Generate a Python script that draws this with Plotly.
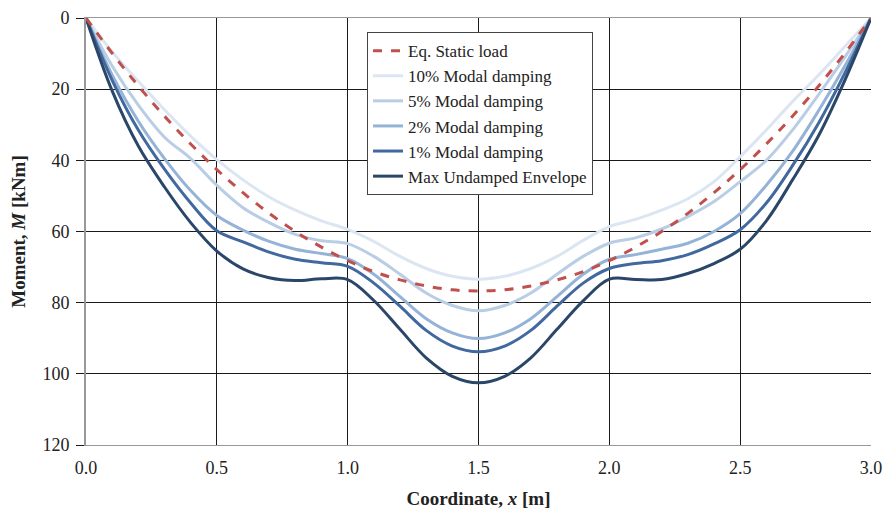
import plotly.graph_objects as go

x = [0.0, 0.1, 0.2, 0.3, 0.4, 0.5, 0.6, 0.7, 0.8, 0.9, 1.0, 1.1, 1.2, 1.3, 1.4, 1.5,
     1.6, 1.7, 1.8, 1.9, 2.0, 2.1, 2.2, 2.3, 2.4, 2.5, 2.6, 2.7, 2.8, 2.9, 3.0]

static_load = [0, 9.9, 19.1, 27.6, 35.4, 42.6, 49.1, 54.9, 60.0, 64.4, 68.2, 71.3, 73.6, 75.3, 76.4, 76.7,
               76.4, 75.3, 73.6, 71.3, 68.2, 64.4, 60.0, 54.9, 49.1, 42.6, 35.4, 27.6, 19.1, 9.9, 0]
damp10 = [0, 9.5, 17.8, 25.8, 33.2, 39.8, 45.5, 50.3, 54.0, 57.0, 59.4, 62.8, 67.0, 70.4, 72.6, 73.4,
          72.6, 70.4, 67.0, 62.5, 58.6, 56.6, 54.0, 50.8, 46.0, 39.0, 31.5, 23.5, 16.0, 8.0, 0]
damp5 = [0, 13.5, 24.5, 33.5, 39.5, 47.0, 53.3, 57.5, 60.8, 62.6, 63.4, 67.0, 72.0, 77.3, 80.8, 82.3,
         80.8, 77.3, 72.0, 67.0, 63.3, 61.8, 59.3, 55.8, 51.6, 46.0, 40.0, 31.5, 21.5, 11.0, 0]
damp2 = [0, 16.0, 29.0, 39.5, 48.5, 55.5, 59.6, 62.8, 65.0, 66.2, 67.6, 72.0, 78.3, 84.5, 88.5, 90.1,
         88.5, 84.5, 78.3, 72.0, 67.8, 66.5, 65.0, 63.3, 60.0, 55.0, 47.0, 37.5, 26.0, 13.5, 0]
damp1 = [0, 17.5, 31.5, 42.5, 52.0, 59.8, 62.9, 65.8, 67.8, 68.8, 69.8, 74.5, 81.0, 87.8, 92.2, 93.8,
         92.2, 87.8, 81.0, 74.5, 70.4, 69.0, 68.2, 66.5, 63.5, 59.5, 52.0, 41.5, 29.5, 15.5, 0]
undamped = [0, 20.5, 36.0, 47.5, 57.5, 65.5, 70.5, 73.0, 73.8, 73.3, 73.5, 79.4, 87.5, 95.5, 100.7, 102.5,
            100.7, 95.5, 87.5, 79.5, 73.4, 73.5, 73.5, 71.8, 69.0, 65.0, 57.0, 45.5, 33.0, 17.5, 0]

x_ticks = [0.0, 0.5, 1.0, 1.5, 2.0, 2.5, 3.0]
x_tick_labels = ["0.0", "0.5", "1.0", "1.5", "2.0", "2.5", "3.0"]
y_ticks = [0, 20, 40, 60, 80, 100, 120]

series = [
    ("Eq. Static load", static_load, "#C0504D", "dash"),
    ("10% Modal damping", damp10, "#DCE6F2", "solid"),
    ("5% Modal damping", damp5, "#B9CDE5", "solid"),
    ("2% Modal damping", damp2, "#95B3D7", "solid"),
    ("1% Modal damping", damp1, "#41699F", "solid"),
    ("Max Undamped Envelope", undamped, "#2A4668", "solid"),
]

fig = go.Figure()
order = [1, 2, 3, 4, 5, 0]
for i in order:
    name, vals, col, dash = series[i]
    fig.add_trace(go.Scatter(
        x=x, y=vals, name=name, mode="lines",
        line=dict(color=col, width=3, dash=dash, shape="spline", smoothing=1.0),
        legendrank=i + 1,
    ))

font_family = "Liberation Serif, Times New Roman, serif"
fig.update_layout(
    width=883, height=506,
    margin=dict(l=78, r=20, t=10, b=69),
    paper_bgcolor="white", plot_bgcolor="white",
    font=dict(family=font_family, size=18, color="#222"),
    showlegend=True,
    legend=dict(
        x=0.358, y=0.967, xanchor="left", yanchor="top",
        bgcolor="white", bordercolor="#444", borderwidth=1,
        font=dict(family=font_family, size=17, color="#222"),
        tracegroupgap=0, itemwidth=30,
    ),
    xaxis=dict(
        range=[0, 3], tickvals=x_ticks, ticktext=x_tick_labels,
        showgrid=True, gridcolor="#1a1a1a", gridwidth=1,
        zeroline=False, showline=True, linecolor="#999", linewidth=1, mirror=True,
        ticks="", automargin=False, ticklabelstandoff=6,
        tickfont=dict(size=18),
        title=dict(text="<b>Coordinate, <i>x</i> [m]</b>", font=dict(size=19)),
    ),
    yaxis=dict(
        range=[120, 0], tickvals=y_ticks,
        showgrid=True, gridcolor="#1a1a1a", gridwidth=1,
        zeroline=False, showline=True, linecolor="#999", linewidth=2,
        ticks="outside", ticklen=8, tickcolor="#1a1a1a", automargin=False,
        ticklabelstandoff=3,
        tickfont=dict(size=18),
        title=dict(text="<b>Moment, <i>M</i> [kNm]</b>", font=dict(size=19)),
    ),
)

fig.write_html("out.html")
